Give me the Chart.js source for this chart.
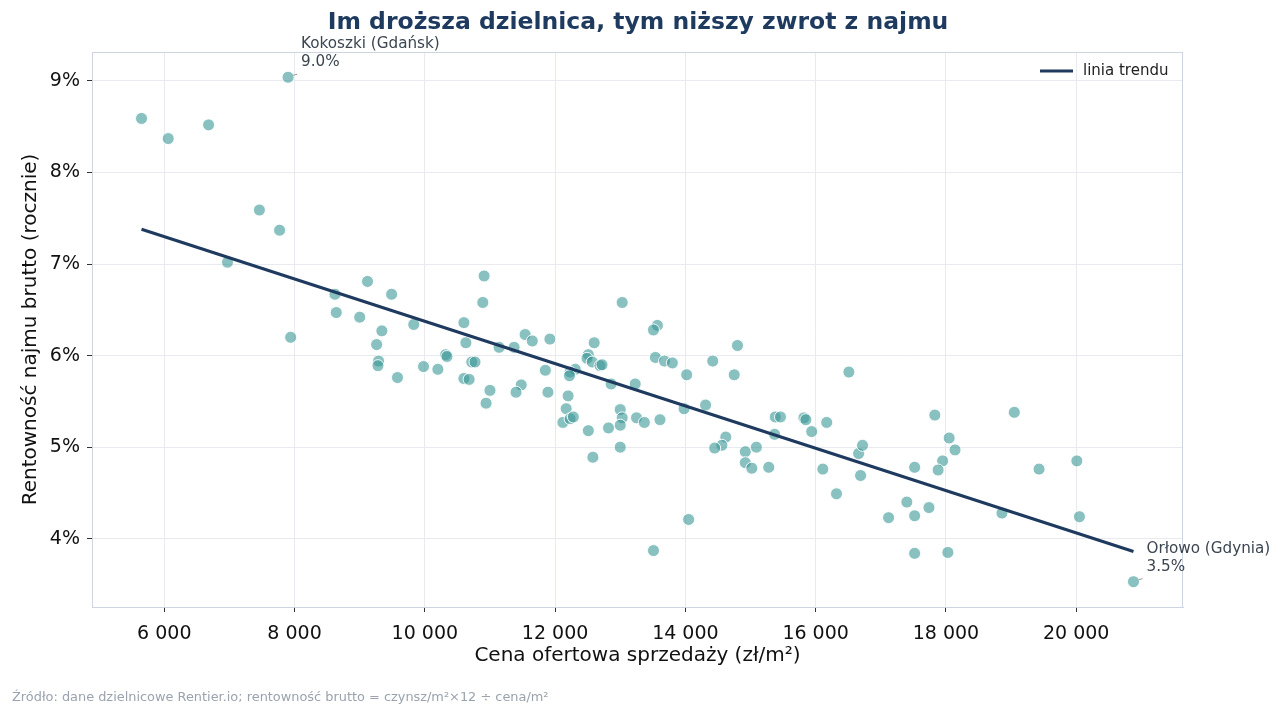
<!DOCTYPE html>
<html lang="pl">
<head>
<meta charset="utf-8">
<script src="https://cdn.jsdelivr.net/npm/chart.js@4.4.1/dist/chart.umd.min.js"></script>
<style>
  html, body { margin: 0; padding: 0; background: #fff; }
  #wrap { width: 1281px; height: 718px; }
</style>
</head>
<body>
<div id="wrap"><canvas id="chart" width="1281" height="718"></canvas></div>
<script>
// cena ofertowa (zł/m²) i rentowność brutto (%) dla dzielnic
const prices = [
  5650, 6060, 6680, 7900, 7460, 7770, 6970, 7940, 8620, 8640,
  9120, 9490, 9000, 9340, 9260, 9290, 9280, 9830, 9580, 9980,
  10320, 10340, 10200, 10910, 10890, 10600, 10630, 10720, 10770, 10600,
  10680, 11000, 10940, 11140, 11370, 11540, 11650, 11480, 11400, 11920,
  11850, 11890, 12200, 12170, 12120, 12230, 12280, 12510, 12580, 12820,
  13000, 13030, 13000, 13000, 13250, 13230, 12860, 12510, 12490, 12600,
  12570, 12690, 12720, 12310, 12230, 12220, 13030, 13570, 13510, 13540,
  13680, 13800, 14020, 14420, 14800, 14750, 16510, 13370, 13610, 13980,
  14310, 14620, 14560, 14450, 14920, 14920, 15020, 15090, 15280, 15380,
  15460, 15370, 15820, 15850, 15940, 16170, 16110, 16320, 16660, 16720,
  16690, 17120, 17400, 14050, 13510, 17830, 19050, 18050, 18140, 17950,
  17880, 17520, 19430, 20010, 17740, 17520, 18860, 20050, 17520, 18030,
  20880
];
const yields = [
  8.59, 8.37, 8.52, 9.04, 7.59, 7.37, 7.02, 6.20, 6.67, 6.47,
  6.81, 6.67, 6.42, 6.27, 6.12, 5.94, 5.89, 6.34, 5.76, 5.88,
  6.01, 5.99, 5.85, 6.87, 6.58, 6.36, 6.14, 5.93, 5.93, 5.75,
  5.74, 5.62, 5.48, 6.09, 6.09, 6.23, 6.16, 5.68, 5.60, 6.18,
  5.84, 5.60, 5.56, 5.42, 5.27, 5.31, 5.33, 5.18, 4.89, 5.21,
  5.41, 5.32, 5.24, 5.00, 5.32, 5.69, 5.69, 6.01, 5.97, 6.14,
  5.93, 5.89, 5.90, 5.85, 5.82, 5.78, 6.58, 6.33, 6.28, 5.98,
  5.94, 5.92, 5.79, 5.94, 6.11, 5.79, 5.82, 5.27, 5.30, 5.42,
  5.46, 5.11, 5.02, 4.99, 4.95, 4.83, 4.77, 5.00, 4.78, 5.33,
  5.33, 5.14, 5.32, 5.30, 5.17, 5.27, 4.76, 4.49, 4.93, 5.02,
  4.69, 4.23, 4.40, 4.21, 3.87, 5.35, 5.38, 5.10, 4.97, 4.85,
  4.75, 4.78, 4.76, 4.85, 4.34, 4.25, 4.28, 4.24, 3.84, 3.85,
  3.53
];

// linia trendu (końce)
const trendX = [5650, 20880];
const trendY = [7.38, 3.86];

// wartości podziałek
const xTicks = [6000, 8000, 10000, 12000, 14000, 16000, 18000, 20000];
const yTicks = [4, 5, 6, 7, 8, 9];

// podpisane dzielnice
const noteNames = ['Kokoszki (Gdańsk)', 'Orłowo (Gdynia)'];
const noteIdx = [3, 120];

const titleText = 'Im droższa dzielnica, tym niższy zwrot z najmu';
const xTitle = 'Cena ofertowa sprzedaży (zł/m²)';
const yTitle = 'Rentowność najmu brutto (rocznie)';
const sourceText = 'Źródło: dane dzielnicowe Rentier.io; rentowność brutto = czynsz/m²×12 ÷ cena/m²';
const legendText = 'linia trendu';

const NAVY = '#1f3a5f';
const FONT = 'DejaVu Sans';

const points = prices.map((p, i) => ({ x: p, y: yields[i] }));
const trend = trendX.map((x, i) => ({ x: x, y: trendY[i] }));

const extras = {
  id: 'extras',
  afterDraw(chart) {
    const { ctx, chartArea: a, scales } = chart;
    ctx.save();
    // ramka wokół wykresu
    ctx.strokeStyle = '#cfd5e0';
    ctx.lineWidth = 1;
    ctx.strokeRect(a.left + 0.5, a.top + 0.5, a.right - a.left - 1, a.bottom - a.top);

    // tytuł
    ctx.fillStyle = NAVY;
    ctx.font = 'bold 23.5px "' + FONT + '"';
    ctx.textAlign = 'center';
    ctx.textBaseline = 'middle';
    ctx.fillText(titleText, 638, 23);

    // tytuły osi
    ctx.fillStyle = '#111';
    ctx.font = '20px "' + FONT + '"';
    ctx.fillText(xTitle, (a.left + a.right) / 2, 656);
    ctx.save();
    ctx.translate(31, (a.top + a.bottom) / 2);
    ctx.rotate(-Math.PI / 2);
    ctx.fillText(yTitle, 0, 0);
    ctx.restore();

    // źródło
    ctx.fillStyle = '#9aa3ae';
    ctx.font = '12.9px "' + FONT + '"';
    ctx.textAlign = 'left';
    ctx.fillText(sourceText, 12, 698);

    // legenda
    ctx.strokeStyle = NAVY;
    ctx.lineWidth = 3;
    ctx.beginPath();
    ctx.moveTo(1040, 71);
    ctx.lineTo(1073, 71);
    ctx.stroke();
    ctx.fillStyle = '#222';
    ctx.font = '15px "' + FONT + '"';
    ctx.fillText(legendText, 1083, 71);

    // podpisy punktów
    noteIdx.forEach((idx, k) => {
      const px = scales.x.getPixelForValue(prices[idx]);
      const py = scales.y.getPixelForValue(yields[idx]);
      ctx.strokeStyle = '#999';
      ctx.lineWidth = 1;
      ctx.beginPath();
      ctx.moveTo(px + 5, py - 2);
      ctx.lineTo(px + 9, py - 3);
      ctx.stroke();
      ctx.fillStyle = '#3a4550';
      ctx.font = '15.2px "' + FONT + '"';
      ctx.fillText(noteNames[k], px + 13, py - 33);
      ctx.fillText(yields[idx].toFixed(1) + '%', px + 13, py - 15);
    });
    ctx.restore();
  }
};

const ctx = document.getElementById('chart').getContext('2d');
new Chart(ctx, {
  data: {
    datasets: [{
      type: 'line',
      data: trend,
      borderColor: NAVY,
      borderWidth: 3,
      pointRadius: 0,
      fill: false,
      order: 0
    }, {
      type: 'scatter',
      data: points,
      backgroundColor: 'rgba(58,150,150,0.6)',
      borderColor: 'rgba(255,255,255,0.9)',
      borderWidth: 1,
      pointRadius: 6,
      order: 1
    }]
  },
  options: {
    responsive: false,
    animation: false,
    devicePixelRatio: 1,
    layout: { padding: { top: 52, right: 98, bottom: 0, left: 0 } },
    plugins: {
      legend: { display: false },
      tooltip: { enabled: false },
      title: { display: false }
    },
    scales: {
      x: {
        type: 'linear',
        min: 4890,
        max: 21640,
        afterFit: s => { s.height = 111; },
        afterBuildTicks: s => { s.ticks = xTicks.map(v => ({ value: v })); },
        ticks: {
          color: '#111',
          font: { family: FONT, size: 19 },
          padding: 11,
          maxRotation: 0,
          autoSkip: false,
          callback: v => String(v).replace(/\B(?=(\d{3})+(?!\d))/g, ' ')
        },
        grid: { color: '#e8eaef', tickColor: '#333', tickLength: 5 },
        border: { color: '#cfd5e0' }
      },
      y: {
        min: 3.254,
        max: 9.316,
        afterFit: s => { s.width = 92; },
        afterBuildTicks: s => { s.ticks = yTicks.map(v => ({ value: v })); },
        ticks: {
          color: '#111',
          font: { family: FONT, size: 19 },
          padding: 7,
          autoSkip: false,
          callback: v => v + '%'
        },
        grid: { color: '#e8eaef', tickColor: '#333', tickLength: 5 },
        border: { color: '#cfd5e0' }
      }
    }
  },
  plugins: [extras]
});
</script>
</body>
</html>
